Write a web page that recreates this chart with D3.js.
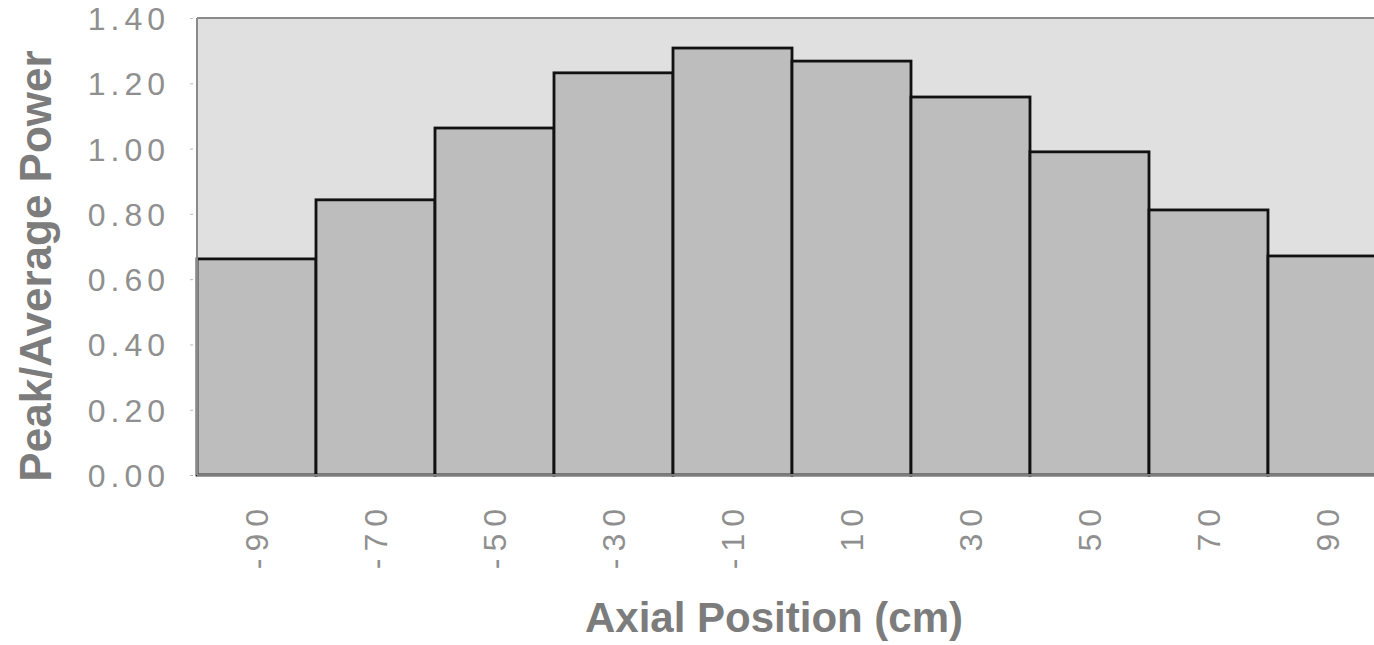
<!DOCTYPE html>
<html>
<head>
<meta charset="utf-8">
<script src="https://cdn.jsdelivr.net/npm/d3@7"></script>
<style>
  body { margin: 0; background: #fff; }
  svg { display: block; }
</style>
</head>
<body>
<div id="chart"></div>
<script>
// Axial power profile data
const positions = ["-90", "-70", "-50", "-30", "-10", "10", "30", "50", "70", "90"];
const peakToAverage = [0.662, 0.843, 1.063, 1.232, 1.308, 1.268, 1.158, 0.990, 0.812, 0.671];
const yTicks = [0, 0.2, 0.4, 0.6, 0.8, 1.0, 1.2, 1.4];

const width = 1374;
const height = 645;
const margin = { top: 18, right: -13, bottom: 170, left: 197 };

const BG_PLOT = "#e0e0e0";
const BAR_FILL = "#bdbdbd";
const TICK_COLOR = "#8f8f8f";
const TITLE_COLOR = "#7c7c7c";
const FONT = "'Liberation Sans', Arial, Helvetica, sans-serif";

const svg = d3.select("#chart").append("svg")
    .attr("width", width)
    .attr("height", height);

const x = d3.scaleBand()
    .domain(positions)
    .range([margin.left, width - margin.right])
    .padding(0);

const y = d3.scaleLinear()
    .domain([0, 1.4])
    .range([height - margin.bottom, margin.top]);

// plot background
svg.append("rect")
    .attr("x", margin.left)
    .attr("y", y(1.4))
    .attr("width", width - margin.right - margin.left)
    .attr("height", y(0) - y(1.4))
    .attr("fill", BG_PLOT);

// bars
svg.append("g")
    .selectAll("rect")
    .data(positions)
    .join("rect")
    .attr("x", d => x(d))
    .attr("y", (d, i) => y(peakToAverage[i]))
    .attr("width", x.bandwidth())
    .attr("height", (d, i) => y(0) - y(peakToAverage[i]))
    .attr("fill", BAR_FILL)
    .attr("stroke", "#111")
    .attr("stroke-width", 2.8);

// plot frame (top, left, bottom)
svg.append("line")
    .attr("x1", margin.left).attr("x2", width)
    .attr("y1", y(1.4)).attr("y2", y(1.4))
    .attr("stroke", "#8a8a8a").attr("stroke-width", 2);
svg.append("line")
    .attr("x1", margin.left).attr("x2", margin.left)
    .attr("y1", y(1.4)).attr("y2", y(0))
    .attr("stroke", "#8a8a8a").attr("stroke-width", 2);
svg.append("line")
    .attr("x1", margin.left).attr("x2", width)
    .attr("y1", y(0)).attr("y2", y(0))
    .attr("stroke", "#a0a0a0").attr("stroke-width", 1.5);

// y axis
const yAxis = svg.append("g")
    .attr("transform", `translate(${margin.left - 4},0)`)
    .call(d3.axisLeft(y).tickValues(yTicks).tickFormat(d3.format(".2f")).tickSize(3).tickPadding(20));
yAxis.select(".domain").remove();
yAxis.selectAll(".tick line").attr("stroke", "#bbb");
yAxis.selectAll(".tick text")
    .attr("fill", TICK_COLOR)
    .attr("font-family", FONT)
    .attr("font-size", "32px")
    .attr("letter-spacing", "5px")
    .attr("dy", "0.36em");

// x axis
const xAxis = svg.append("g")
    .attr("transform", `translate(0,${y(0)})`)
    .call(d3.axisBottom(x).tickSize(0).tickPadding(0));
xAxis.select(".domain").remove();
xAxis.selectAll(".tick text")
    .attr("fill", TICK_COLOR)
    .attr("font-family", FONT)
    .attr("font-size", "32px")
    .attr("letter-spacing", "7px")
    .attr("text-anchor", "end")
    .attr("transform", "translate(11,27) rotate(-90)")
    .attr("dy", 0)
    .attr("y", 0)
    .attr("x", 0);

// axis titles
svg.append("text")
    .attr("transform", "translate(51,266) rotate(-90)")
    .attr("text-anchor", "middle")
    .attr("font-family", FONT)
    .attr("font-weight", "bold")
    .attr("font-size", "44px")
    .attr("fill", TITLE_COLOR)
    .text("Peak/Average Power");

svg.append("text")
    .attr("x", 774)
    .attr("y", 632)
    .attr("text-anchor", "middle")
    .attr("font-family", FONT)
    .attr("font-weight", "bold")
    .attr("font-size", "42px")
    .attr("fill", TITLE_COLOR)
    .text("Axial Position (cm)");
</script>
</body>
</html>
